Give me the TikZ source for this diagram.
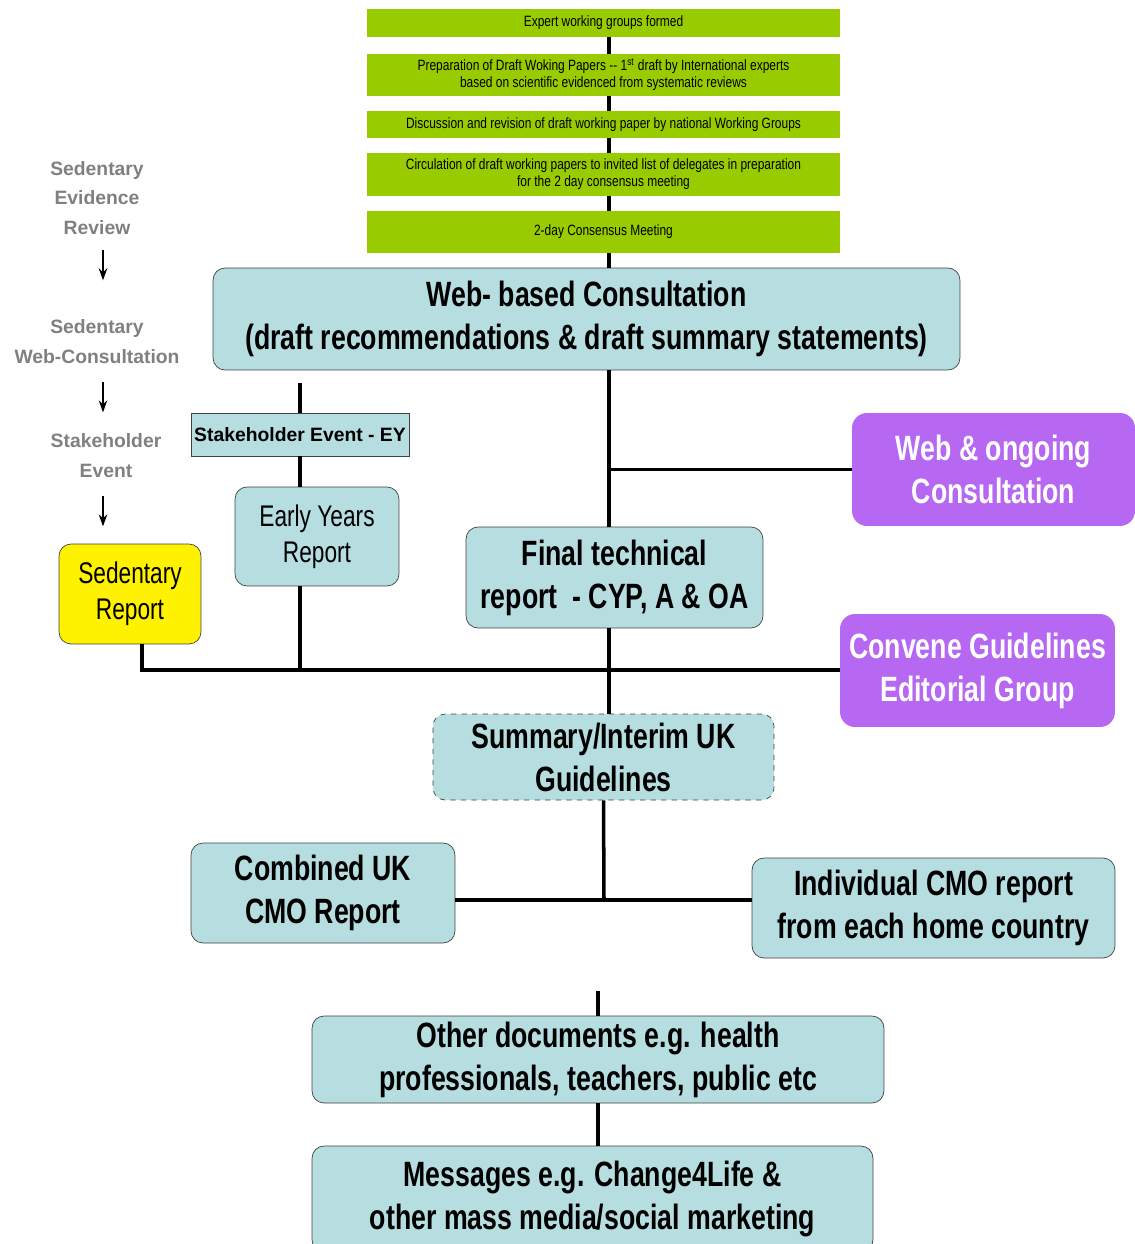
\documentclass[tikz,border=0pt]{standalone}
\usepackage{fontspec}
\setmainfont{Liberation Sans}
\newfontfamily\condfont[FakeStretch=0.76]{Liberation Sans}
\newfontfamily\greenfont[FakeStretch=0.8]{Liberation Sans}
\usetikzlibrary{arrows.meta}
\usetikzlibrary{positioning}
\definecolor{stepgreen}{RGB}{153,204,0}
\definecolor{reportblue}{RGB}{182,221,224}
\definecolor{consultpurple}{RGB}{182,104,242}
\definecolor{labelgray}{RGB}{128,128,128}
\tikzset{
  greenbox/.style={fill=stepgreen, minimum width=9.46cm, inner sep=0pt,
    align=center, font=\greenfont\fontsize{8.5}{9.6}\selectfont},
  bluebox/.style={draw=black!75, fill=reportblue, rounded corners=0.24cm,
    inner sep=0pt, align=center, font=\condfont\bfseries\fontsize{20}{24.4}\selectfont},
  plainbox/.style={bluebox, font=\condfont\fontsize{17}{20.4}\selectfont},
  purplebox/.style={fill=consultpurple, rounded corners=0.3cm, inner sep=0pt,
    align=center, text=white, font=\condfont\bfseries\fontsize{20}{24.4}\selectfont},
  sidelabel/.style={text=labelgray, inner sep=0pt, align=center,
    font=\bfseries\fontsize{11}{17}\selectfont},
  link/.style={line width=2pt},
  sidearrow/.style={-{Stealth[length=2.4mm,width=1.7mm]}, line width=0.9pt},
}

\begin{document}
\begin{tikzpicture}[x=0.02cm, y=-0.02cm]
  \useasboundingbox (0,0) rectangle (1135,1244);

  % evidence steps
  \node [greenbox, minimum height=0.56cm] (G1) at (603.5,23) {Expert working groups formed};
  \node [greenbox, minimum height=0.84cm] (G2) at (603.5,75)
    {Preparation of Draft Woking Papers -- 1\textsuperscript{st} draft by International experts\\
     based on scientific evidenced from systematic reviews};
  \node [greenbox, minimum height=0.54cm] (G3) at (603.5,124.5)
    {Discussion and revision of draft working paper by national Working Groups};
  \node [greenbox, minimum height=0.86cm] (G4) at (603.5,174.5)
    {Circulation of draft working papers to invited list of delegates in preparation\\
     for the 2 day consensus meeting};
  \node [greenbox, minimum height=0.84cm] (G5) at (603.5,232) {2-day Consensus Meeting};

  \node [bluebox, minimum width=14.94cm, minimum height=2.04cm] (web) at (586.5,319)
    {Web- based Consultation\\(draft recommendations \& draft summary statements)};

  % left hand column
  \node [sidelabel] (lblEvid) at (97,198) {Sedentary\\Evidence\\Review};
  \node [sidelabel] (lblWeb) at (97,342) {Sedentary\\Web-Consultation};
  \node [sidelabel] (lblStake) at (106,456) {Stakeholder\\Event};
  \draw [sidearrow] ([xshift=0.12cm,yshift=-0.3cm]lblEvid.south) -- ++(0,30);
  \draw [sidearrow] ([xshift=0.12cm,yshift=-0.36cm]lblWeb.south) -- ++(0,30);
  \draw [sidearrow] ([xshift=-0.06cm,yshift=-0.36cm]lblStake.south) -- ++(0,30);

  \node [draw=black!75, fill=reportblue, minimum width=4.36cm, minimum height=0.86cm,
    inner sep=0pt, font=\bfseries\fontsize{11}{13}\selectfont] (EY) at (300,434.5)
    {Stakeholder Event - EY};
  \node [plainbox, minimum width=3.28cm, minimum height=1.98cm] (early) at (317,536.5)
    {Early Years\\Report};
  \node [plainbox, fill=yellow, minimum width=2.84cm, minimum height=2cm] (sedrep) at (130,594)
    {Sedentary\\Report};

  \node [bluebox, minimum width=5.94cm, minimum height=2.02cm] (final) at (614.5,577.5)
    {Final technical\\report\ \ - CYP, A \& OA};
  \node [purplebox, minimum width=5.66cm, minimum height=2.26cm] (ongoing) at (993.5,469.5)
    {Web \& ongoing\\Consultation};
  \node [purplebox, minimum width=5.5cm, minimum height=2.26cm] (convene) at (977.5,670.5)
    {Convene Guidelines\\Editorial Group};

  \node [bluebox, dashed, minimum width=6.82cm, minimum height=1.72cm] (summary) at (603.5,757)
    {Summary/Interim UK\\Guidelines};
  \node [bluebox, minimum width=5.28cm, minimum height=2cm] (combined) at (323,893)
    {Combined UK\\CMO Report};
  \node [bluebox, minimum width=7.26cm, minimum height=2cm] (individual) at (933.5,908)
    {Individual CMO report\\from each home country};
  \node [bluebox, minimum width=11.44cm, minimum height=1.74cm] (other) at (598,1059.5)
    {Other documents e.g. health\\professionals, teachers, public etc};
  \node [bluebox, minimum width=11.22cm, minimum height=2.12cm] (messages) at (592.5,1199)
    {Messages e.g. Change4Life \&\\other mass media/social marketing};

  % connectors
  \coordinate (spine) at (609,0);
  \coordinate (eytop) at (300,383);
  \coordinate (busL) at (142,670);
  \coordinate (cmo) at (604,900);
  \coordinate (stub) at (598,991);

  \foreach \a/\b in {G1/G2, G2/G3, G3/G4, G4/G5, G5/web, web/final, final/summary}
    \draw [link] (\a.south -| spine) -- (\b.north -| spine);
  \draw [link] (ongoing.west) -- (ongoing.west -| spine);

  \draw [link] (eytop) -- (EY.north);
  \draw [link] (EY.south) -- (EY.south |- early.north);
  \draw [link] (EY.south |- early.south) -- (EY.south |- busL);
  \draw [link] (sedrep.south -| busL) -- (busL) -- (busL -| convene.west);

  \draw [link] (summary.south) -- (cmo);
  \draw [link] (cmo -| combined.east) -- (cmo -| individual.west);
  \draw [link] (stub) -- (stub |- other.north);
  \draw [link] (other.south) -- (other.south |- messages.north);
\end{tikzpicture}
\end{document}
